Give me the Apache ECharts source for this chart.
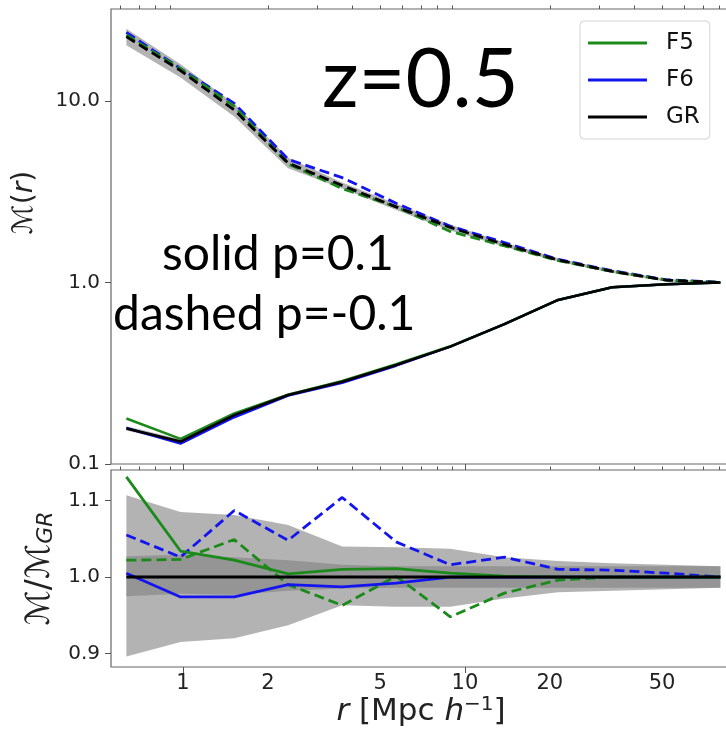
<!DOCTYPE html>
<html>
<head>
<meta charset="utf-8">
<script src="https://cdn.jsdelivr.net/npm/echarts@6/dist/echarts.min.js"></script>
<style>
  html, body { margin: 0; padding: 0; background: #fff; }
  #chart { width: 726px; height: 734px; }
</style>
</head>
<body>
<div id="chart"></div>
<script>
// Radial bins r [Mpc/h]
const rBins = [0.63, 0.98, 1.52, 2.36, 3.67, 5.70, 8.87, 13.8, 21.4, 33.3, 51.8, 80.5];

// M(r), p = 0.1 (solid)
const grSolid = [0.157, 0.133, 0.186, 0.240, 0.284, 0.351, 0.443, 0.589, 0.801, 0.941, 0.977, 1.0];
const f5Solid = [0.178, 0.1375, 0.190, 0.241, 0.287, 0.355, 0.445, 0.590, 0.801, 0.941, 0.977, 1.0];
const f6Solid = [0.158, 0.1295, 0.181, 0.238, 0.280, 0.348, 0.443, 0.589, 0.801, 0.941, 0.977, 1.0];

// M(r), p = -0.1 (dashed)
const grDashed = [22.6, 14.7, 8.92, 4.55, 3.42, 2.61, 2.01, 1.62, 1.33, 1.15, 1.03, 1.0];
const f5Dashed = [23.10, 15.04, 9.36, 4.50, 3.29, 2.61, 1.91, 1.59, 1.32, 1.15, 1.03, 1.0];
const f6Dashed = [23.84, 15.08, 9.70, 4.77, 3.78, 2.73, 2.04, 1.66, 1.34, 1.16, 1.035, 1.0];

// M / M_GR ratios
const ratioF5Solid = [1.131, 1.034, 1.022, 1.004, 1.010, 1.011, 1.005, 1.001, 1.0, 1.0, 1.0, 1.0];
const ratioF6Solid = [1.005, 0.974, 0.974, 0.990, 0.987, 0.992, 1.0, 1.0, 1.0, 1.0, 1.0, 1.0];
const ratioF5Dashed = [1.022, 1.023, 1.049, 0.990, 0.963, 1.001, 0.948, 0.979, 0.996, 1.0, 1.0, 1.0];
const ratioF6Dashed = [1.055, 1.026, 1.087, 1.048, 1.104, 1.046, 1.016, 1.026, 1.010, 1.009, 1.005, 1.0];
const ratioGR = [1, 1, 1, 1, 1, 1, 1, 1, 1, 1, 1, 1];

// GR scatter envelopes (relative): wide one for p=-0.1, narrow one for p=0.1
const wideHi = [1.107, 1.085, 1.081, 1.068, 1.040, 1.039, 1.037, 1.026, 1.021, 1.018, 1.016, 1.014];
const wideLo = [0.896, 0.915, 0.920, 0.937, 0.963, 0.961, 0.961, 0.972, 0.980, 0.982, 0.984, 0.986];
const narrowHi = [1.027, 1.029, 1.026, 1.022, 1.016, 1.014, 1.014, 1.014, 1.014, 1.014, 1.014, 1.014];
const narrowLo = [0.975, 0.978, 0.977, 0.982, 0.985, 0.986, 0.986, 0.986, 0.986, 0.986, 0.986, 0.986];

// Tick values
const xMajorTicks = [1, 10];
const xMinorTicks = [0.6, 0.7, 0.8, 0.9, 2, 3, 4, 5, 6, 7, 8, 9, 20, 30, 40, 50, 60, 70, 80];
const xTickLabels = [1, 2, 5, 10, 20, 50];
const yTopMajor = [0.1, 1, 10];
const yTopMinor = [0.2, 0.3, 0.4, 0.5, 0.6, 0.7, 0.8, 0.9, 2, 3, 4, 5, 6, 7, 8, 9, 20, 30];
const yBottomTicks = [0.9, 1.0, 1.1];

const GREEN = '#1b8a1b';
const BLUE = '#1414ee';
const BLACK = '#000000';
const BAND = 'rgba(128,128,128,0.6)';
const AXIS_GREY = '#555';
const LABEL_FONT = 'DejaVu Sans';

const chart = echarts.init(document.getElementById('chart'), null, { renderer: 'canvas' });

function pairs(ys) { return rBins.map((r, i) => [r, ys[i]]); }

// Band polygon between base*lo and base*hi, positioned through the axis scales
function bandSeries(xIdx, yIdx, base, lo, hi, z) {
  return {
    type: 'custom',
    xAxisIndex: xIdx, yAxisIndex: yIdx,
    silent: true, z: z,
    data: [[rBins[0], base[0]]],
    encode: { x: 0, y: 1 },
    renderItem: function (params, api) {
      const pts = [];
      for (let i = 0; i < rBins.length; i++) pts.push(api.coord([rBins[i], base[i] * hi[i]]));
      for (let i = rBins.length - 1; i >= 0; i--) pts.push(api.coord([rBins[i], base[i] * lo[i]]));
      return { type: 'polygon', shape: { points: pts }, style: { fill: BAND } };
    }
  };
}

function lineSeries(name, xIdx, yIdx, ys, color, dashed, width, z) {
  return {
    name: name, type: 'line',
    xAxisIndex: xIdx, yAxisIndex: yIdx,
    data: pairs(ys),
    showSymbol: false, symbol: 'none',
    lineStyle: { color: color, width: width, type: dashed ? [10, 5] : 'solid' },
    itemStyle: { color: color },
    z: z, silent: true, animation: false
  };
}

function xAxisDef(gridIdx, ticks, len, labels) {
  return {
    gridIndex: gridIdx, type: 'log', logBase: 10,
    min: 0.5556, max: 87.8,
    axisLine: { show: false },
    splitLine: { show: false },
    axisTick: { show: true, customValues: ticks, length: len, lineStyle: { color: AXIS_GREY, width: 1 } },
    axisLabel: labels ? {
      show: true, customValues: labels, margin: 6,
      fontFamily: LABEL_FONT, fontSize: 21, color: '#222',
      formatter: v => String(Math.round(v))
    } : { show: false }
  };
}

const gridBase = {
  left: 111, width: 620, show: true, borderColor: '#666', borderWidth: 1.2,
  backgroundColor: '#fff', containLabel: false, outerBoundsMode: 'none'
};

const option = {
  backgroundColor: '#fff',
  animation: false,
  grid: [
    Object.assign({ top: 9, height: 455 }, gridBase),
    Object.assign({ top: 470, height: 197 }, gridBase)
  ],
  xAxis: [
    xAxisDef(0, xMajorTicks, 6, null),
    xAxisDef(0, xMinorTicks, 3.5, null),
    Object.assign(xAxisDef(1, xMajorTicks, 6, xTickLabels), {
      name: '{it|r} [Mpc {it|h}{sup|\u22121}]',
      nameLocation: 'middle', nameGap: 27,
      nameTextStyle: {
        fontFamily: LABEL_FONT, fontSize: 31, color: '#222',
        rich: {
          it: { fontFamily: LABEL_FONT, fontSize: 31, fontStyle: 'italic', color: '#222' },
          sup: { fontFamily: LABEL_FONT, fontSize: 20, color: '#222', verticalAlign: 'top', padding: [0, 0, 14, 0] }
        }
      }
    }),
    xAxisDef(1, xMinorTicks, 3.5, null)
  ],
  yAxis: [
    {
      gridIndex: 0, type: 'log', logBase: 10, min: 0.1, max: 32.1,
      axisLine: { show: false }, splitLine: { show: false },
      axisTick: { show: true, customValues: yTopMajor, length: 6, lineStyle: { color: AXIS_GREY } },
      axisLabel: {
        show: true, customValues: yTopMajor, margin: 11,
        fontFamily: LABEL_FONT, fontSize: 20, color: '#222',
        formatter: v => Number(v).toFixed(1)
      },
      name: '\u2133({it|r})', nameLocation: 'middle', nameRotate: 90, nameGap: 72,
      nameTextStyle: {
        fontFamily: LABEL_FONT, fontSize: 28, color: '#222', padding: [0, 0, 0, 68],
        rich: { it: { fontFamily: LABEL_FONT, fontSize: 28, fontStyle: 'italic', color: '#222' } }
      }
    },
    {
      gridIndex: 0, type: 'log', logBase: 10, min: 0.1, max: 32.1,
      axisLine: { show: false }, splitLine: { show: false },
      axisTick: { show: true, customValues: yTopMinor, length: 3.5, lineStyle: { color: AXIS_GREY } },
      axisLabel: { show: false }
    },
    {
      gridIndex: 1, type: 'value', min: 0.8824, max: 1.1399,
      axisLine: { show: false }, splitLine: { show: false },
      axisTick: { show: true, customValues: yBottomTicks, length: 6, lineStyle: { color: AXIS_GREY } },
      axisLabel: {
        show: true, customValues: yBottomTicks, margin: 11,
        fontFamily: LABEL_FONT, fontSize: 20, color: '#222',
        formatter: v => Number(v).toFixed(1)
      },
      name: '\u2133/\u2133{sub|GR}', nameLocation: 'middle', nameRotate: 90, nameGap: 46,
      nameTextStyle: {
        fontFamily: LABEL_FONT, fontSize: 33, color: '#222',
        rich: { sub: { fontFamily: LABEL_FONT, fontSize: 22, fontStyle: 'italic', color: '#222', verticalAlign: 'bottom', padding: [10, 0, 0, 0] } }
      }
    }
  ],
  legend: {
    orient: 'vertical', left: 580, top: 21,
    padding: [10, 10, 10, 8],
    itemWidth: 59, itemHeight: 3, itemGap: 13,
    icon: 'rect',
    backgroundColor: '#fff', borderColor: '#d4d4d4', borderWidth: 1, borderRadius: 4,
    textStyle: { fontFamily: LABEL_FONT, fontSize: 23, color: '#111', lineHeight: 24, padding: [0, 0, 0, 14] },
    data: ['F5', 'F6', 'GR'],
    selectedMode: false
  },
  graphic: [
    { type: 'text', left: 322, top: 40, style: { text: 'z=0.5', font: '81px Lato', fill: '#000' }, z: 100 },
    { type: 'text', left: 162, top: 231, style: { text: 'solid p=0.1', font: '48px Lato', fill: '#000' }, z: 100 },
    { type: 'text', left: 113, top: 291, style: { text: 'dashed p=-0.1', font: '48px Lato', fill: '#000' }, z: 100 }
  ],
  series: [
    // top panel envelopes
    bandSeries(0, 0, grDashed, wideLo, wideHi, 1),
    bandSeries(0, 0, grSolid, narrowLo, narrowHi, 1),
    // bottom panel envelopes
    bandSeries(2, 2, ratioGR, wideLo, wideHi, 1),
    bandSeries(2, 2, ratioGR, narrowLo, narrowHi, 1),

    // top panel curves
    lineSeries('F6 p=-0.1', 0, 0, f6Dashed, BLUE, true, 2.8, 3),
    lineSeries('F5 p=-0.1', 0, 0, f5Dashed, GREEN, true, 2.8, 3),
    lineSeries('F6', 0, 0, f6Solid, BLUE, false, 2.5, 3),
    lineSeries('F5', 0, 0, f5Solid, GREEN, false, 2.5, 3),
    lineSeries('GR p=-0.1', 0, 0, grDashed, BLACK, true, 2.8, 4),
    lineSeries('GR', 0, 0, grSolid, BLACK, false, 2.5, 4),

    // bottom panel ratios
    lineSeries('F6 ratio p=-0.1', 2, 2, ratioF6Dashed, BLUE, true, 2.8, 3),
    lineSeries('F5 ratio p=-0.1', 2, 2, ratioF5Dashed, GREEN, true, 2.8, 3),
    lineSeries('F6 ratio p=0.1', 2, 2, ratioF6Solid, BLUE, false, 2.8, 3),
    lineSeries('F5 ratio p=0.1', 2, 2, ratioF5Solid, GREEN, false, 2.8, 3),
    lineSeries('GR ratio', 2, 2, ratioGR, BLACK, false, 3, 4)
  ]
};

chart.setOption(option);
</script>
</body>
</html>
